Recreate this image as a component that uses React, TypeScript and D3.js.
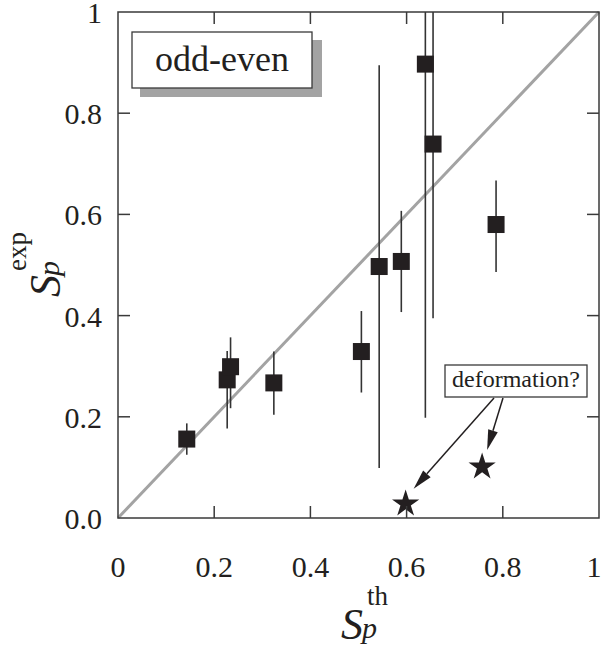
import * as d3 from 'd3';
import React from 'react';

// theoretical vs experimental S_p, odd-even
const sTh = [0.143, 0.227, 0.234, 0.324, 0.506, 0.543, 0.589, 0.639, 0.655, 0.786]
const sExp = [0.156, 0.273, 0.299, 0.267, 0.329, 0.497, 0.507, 0.897, 0.739, 0.580]
const errLo = [0.125, 0.177, 0.217, 0.204, 0.248, 0.099, 0.407, 0.198, 0.395, 0.486]
const errHi = [0.187, 0.33, 0.357, 0.329, 0.409, 0.895, 0.607, 1.0, 1.0, 0.667]

// "deformation?" points
const starTh = [0.598, 0.757]
const starExp = [0.030, 0.103]

const xTicks = [0, 0.2, 0.4, 0.6, 0.8, 1]
const xTickLabels = ['0', '0.2', '0.4', '0.6', '0.8', '1']
const yTicks = [0, 0.2, 0.4, 0.6, 0.8, 1]
const yTickLabels = ['0.0', '0.2', '0.4', '0.6', '0.8', '1']

const serif = "Liberation Serif, 'Times New Roman', Tinos, Times, serif"
const ink = '#231f20'
const axisCol = '#3a3a3a'

export default function App() {
    const left = 118, right = 599, top = 12, bottom = 518
    const x = d3.scaleLinear().domain([0, 1]).range([left, right])
    const y = d3.scaleLinear().domain([0, 1]).range([bottom, top])
    const tick = 12
    const sq = 17

    const star = d3.symbol(d3.symbolStar, 230)()

    // arrows from the annotation box to the stars
    const arrows = starTh.map((v, i) => {
        const x0 = i === 0 ? 494 : 503
        const y0 = 398
        const tx = x(v) + (i === 0 ? 8 : 5)
        const ty = y(starExp[i]) - (i === 0 ? 14 : 16)
        const ang = Math.atan2(ty - y0, tx - x0)
        const L = 20, W = 5
        const bx = tx - L * Math.cos(ang), by = ty - L * Math.sin(ang)
        const nx = -Math.sin(ang) * W, ny = Math.cos(ang) * W
        return { x0, y0, bx, by, tx, ty, head: `M${tx},${ty}L${bx + nx},${by + ny}L${bx - nx},${by - ny}Z` }
    })

    return (
        <svg width={602} height={648} style={{ position: 'absolute', left: 0, top: 0, background: '#fff', fontFamily: serif }}>
            {/* diagonal */}
            <line x1={x(0)} y1={y(0)} x2={x(1)} y2={y(1)} stroke="#a3a3a3" strokeWidth={3} />

            {/* error bars */}
            {sTh.map((v, i) => (
                <line key={'e' + i} x1={x(v)} x2={x(v)} y1={y(errLo[i])} y2={y(errHi[i])}
                    stroke="#333" strokeWidth={1.6} />
            ))}
            {sTh.map((v, i) => (
                <rect key={'s' + i} x={x(v) - sq / 2} y={y(sExp[i]) - sq / 2} width={sq} height={sq} fill={ink} />
            ))}
            {starTh.map((v, i) => (
                <path key={'st' + i} d={star} transform={`translate(${x(v)},${y(starExp[i]) + 1})`} fill={ink} />
            ))}

            {/* frame */}
            <rect x={left} y={top} width={right - left} height={bottom - top} fill="none" stroke={axisCol} strokeWidth={1.5} />
            {xTicks.slice(1, -1).map(t => (
                <g key={'xt' + t}>
                    <line x1={x(t)} x2={x(t)} y1={bottom} y2={bottom - tick} stroke={axisCol} strokeWidth={1.5} />
                    <line x1={x(t)} x2={x(t)} y1={top} y2={top + tick} stroke={axisCol} strokeWidth={1.5} />
                </g>
            ))}
            {yTicks.slice(1, -1).map(t => (
                <g key={'yt' + t}>
                    <line x1={left} x2={left + tick} y1={y(t)} y2={y(t)} stroke={axisCol} strokeWidth={1.5} />
                    <line x1={right} x2={right - tick} y1={y(t)} y2={y(t)} stroke={axisCol} strokeWidth={1.5} />
                </g>
            ))}
            {xTicks.map((t, i) => (
                <text key={'xl' + t} x={Math.min(x(t), 594)} y={577} textAnchor="middle" fontSize={30} fill={ink}>{xTickLabels[i]}</text>
            ))}
            {yTicks.map((t, i) => (
                <text key={'yl' + t} x={102} y={Math.max(y(t) + 11, 23)} textAnchor="end" fontSize={30} fill={ink}>{yTickLabels[i]}</text>
            ))}

            {/* legend box */}
            <rect x={140} y={40} width={182} height={57} fill="#a3a3a3" />
            <rect x={132} y={32} width={180} height={56} fill="#fff" stroke={axisCol} strokeWidth={1.3} />
            <text x={222} y={71} textAnchor="middle" fontSize={36} fill={ink}>odd-even</text>

            {/* annotation */}
            <rect x={445} y={365} width={142} height={32} fill="#fff" stroke={axisCol} strokeWidth={1.3} />
            <text x={516} y={387} textAnchor="middle" fontSize={24} fill={ink}>deformation?</text>
            {arrows.map((a, i) => (
                <g key={'a' + i}>
                    <line x1={a.x0} y1={a.y0} x2={a.bx} y2={a.by} stroke={ink} strokeWidth={1.5} />
                    <path d={a.head} fill={ink} />
                </g>
            ))}

            {/* x axis title */}
            <text x={341} y={639} fontSize={44} fontStyle="italic" fill={ink}>S</text>
            <text x={362} y={638} fontSize={30} fontStyle="italic" fill={ink}>p</text>
            <text x={367} y={605} fontSize={27} fill={ink}>th</text>

            {/* y axis title */}
            <g transform="translate(60,297) rotate(-90)">
                <text x={0} y={0} fontSize={44} fontStyle="italic" fill={ink}>S</text>
                <text x={21} y={-1} fontSize={30} fontStyle="italic" fill={ink}>p</text>
                <text x={26} y={-34} fontSize={27} fill={ink}>exp</text>
            </g>
        </svg>
    )
}
